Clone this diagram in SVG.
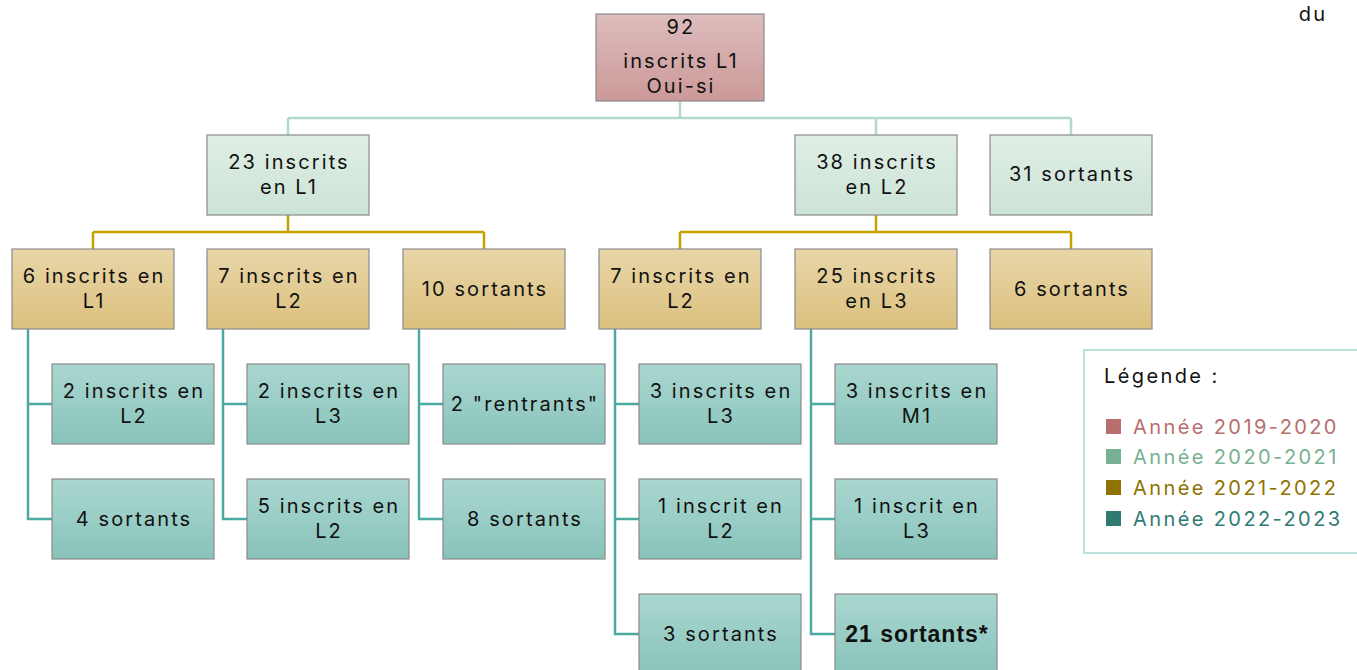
<svg xmlns="http://www.w3.org/2000/svg" width="1357" height="670" viewBox="0 0 1357 670">
<defs>
<linearGradient id="g0" x1="0" y1="0" x2="0" y2="1"><stop offset="0" stop-color="#ddbcbc"/><stop offset="1" stop-color="#cc9999"/></linearGradient>
<linearGradient id="g1" x1="0" y1="0" x2="0" y2="1"><stop offset="0" stop-color="#e0eee6"/><stop offset="1" stop-color="#cce3d6"/></linearGradient>
<linearGradient id="g2" x1="0" y1="0" x2="0" y2="1"><stop offset="0" stop-color="#e8d6a8"/><stop offset="1" stop-color="#dcc07e"/></linearGradient>
<linearGradient id="g3" x1="0" y1="0" x2="0" y2="1"><stop offset="0" stop-color="#aad7d0"/><stop offset="1" stop-color="#88c3ba"/></linearGradient>
</defs>
<style>
.b{stroke:#8a8a8a;stroke-width:1.2}
.l0{fill:url(#g0)}.l1{fill:url(#g1)}.l2{fill:url(#g2)}.l3{fill:url(#g3)}
text{font-family:Inter,"Open Sans","Liberation Sans",sans-serif;font-size:20px;letter-spacing:2.1px;fill:#111;text-anchor:middle}
.c1{fill:none;stroke:#b3dac8;stroke-width:2.5}
.c2{fill:none;stroke:#c4a200;stroke-width:2.5}
.c3{fill:none;stroke:#4aaa9f;stroke-width:2.5}
.lg{text-anchor:start;letter-spacing:2.4px}
.bd{font-family:"Liberation Sans",Arial,sans-serif;font-weight:bold;font-size:23px;letter-spacing:1px}
</style>
<rect width="1357" height="670" fill="#fff"/>
<g id="connectors">
<path class="c1" d="M680 101V118M288 118H1071M288 118V135M876 118V135M1071 118V135"/>
<path class="c2" d="M288 215V232M93 232H484M93 232V249M484 232V249M876 215V232M680 232H1071M680 232V249M1071 232V249"/>
<path class="c3" d="M28 329V519H52M28 404H52M223 329V519H247M223 404H247M419 329V519H443M419 404H443M615 329V634H639M615 404H639M615 519H639M811 329V634H835M811 404H835M811 519H835"/>
</g>
<g id="n_root"><rect class="b l0" x="596" y="14" width="168" height="87"/><text x="681" y="34">92</text><text x="681" y="68">inscrits L1</text><text x="681" y="93">Oui-si</text></g>
<g id="n_23"><rect class="b l1" x="207" y="135" width="162" height="80"/><text x="289" y="169">23 inscrits</text><text x="289" y="194">en L1</text></g>
<g id="n_38"><rect class="b l1" x="795" y="135" width="162" height="80"/><text x="877" y="169">38 inscrits</text><text x="877" y="194">en L2</text></g>
<g id="n_31s"><rect class="b l1" x="990" y="135" width="162" height="80"/><text x="1072" y="181">31 sortants</text></g>
<g id="n_6l1"><rect class="b l2" x="12" y="249" width="162" height="80"/><text x="94" y="283">6 inscrits en</text><text x="94" y="308">L1</text></g>
<g id="n_7l2a"><rect class="b l2" x="207" y="249" width="162" height="80"/><text x="289" y="283">7 inscrits en</text><text x="289" y="308">L2</text></g>
<g id="n_10s"><rect class="b l2" x="403" y="249" width="162" height="80"/><text x="485" y="296">10 sortants</text></g>
<g id="n_7l2b"><rect class="b l2" x="599" y="249" width="162" height="80"/><text x="681" y="283">7 inscrits en</text><text x="681" y="308">L2</text></g>
<g id="n_25"><rect class="b l2" x="795" y="249" width="162" height="80"/><text x="877" y="283">25 inscrits</text><text x="877" y="308">en L3</text></g>
<g id="n_6s"><rect class="b l2" x="990" y="249" width="162" height="80"/><text x="1072" y="296">6 sortants</text></g>
<g id="n_a1"><rect class="b l3" x="52" y="364" width="162" height="80"/><text x="134" y="398">2 inscrits en</text><text x="134" y="423">L2</text></g>
<g id="n_a2"><rect class="b l3" x="52" y="479" width="162" height="80"/><text x="134" y="526">4 sortants</text></g>
<g id="n_b1"><rect class="b l3" x="247" y="364" width="162" height="80"/><text x="329" y="398">2 inscrits en</text><text x="329" y="423">L3</text></g>
<g id="n_b2"><rect class="b l3" x="247" y="479" width="162" height="80"/><text x="329" y="513">5 inscrits en</text><text x="329" y="538">L2</text></g>
<g id="n_c1"><rect class="b l3" x="443" y="364" width="162" height="80"/><text x="525" y="411">2 "rentrants"</text></g>
<g id="n_c2"><rect class="b l3" x="443" y="479" width="162" height="80"/><text x="525" y="526">8 sortants</text></g>
<g id="n_d1"><rect class="b l3" x="639" y="364" width="162" height="80"/><text x="721" y="398">3 inscrits en</text><text x="721" y="423">L3</text></g>
<g id="n_d2"><rect class="b l3" x="639" y="479" width="162" height="80"/><text x="721" y="513">1 inscrit en</text><text x="721" y="538">L2</text></g>
<g id="n_d3"><rect class="b l3" x="639" y="594" width="162" height="80"/><text x="721" y="641">3 sortants</text></g>
<g id="n_e1"><rect class="b l3" x="835" y="364" width="162" height="80"/><text x="917" y="398">3 inscrits en</text><text x="917" y="423">M1</text></g>
<g id="n_e2"><rect class="b l3" x="835" y="479" width="162" height="80"/><text x="917" y="513">1 inscrit en</text><text x="917" y="538">L3</text></g>
<g id="n_e3"><rect class="b l3" x="835" y="594" width="162" height="80"/><text class="bd" x="917" y="642">21 sortants*</text></g>
<text x="1313" y="21">du</text>
<g id="legend">
<rect x="1084" y="350" width="280" height="203" fill="#fff" stroke="#a6d8d2" stroke-width="1.5"/>
<text class="lg" x="1104" y="383">Légende :</text>
<rect x="1106" y="419" width="15" height="15" fill="#b86e6e"/><text class="lg" x="1133" y="434" style="fill:#b86e6e">Année 2019-2020</text>
<rect x="1106" y="449" width="15" height="15" fill="#78b092"/><text class="lg" x="1133" y="464" style="fill:#78b092">Année 2020-2021</text>
<rect x="1106" y="480" width="15" height="15" fill="#8f7200"/><text class="lg" x="1133" y="495" style="fill:#8f7200">Année 2021-2022</text>
<rect x="1106" y="511" width="15" height="15" fill="#2f7b72"/><text class="lg" x="1133" y="526" style="fill:#2f7b72">Année 2022-2023</text>
</g>
</svg>
